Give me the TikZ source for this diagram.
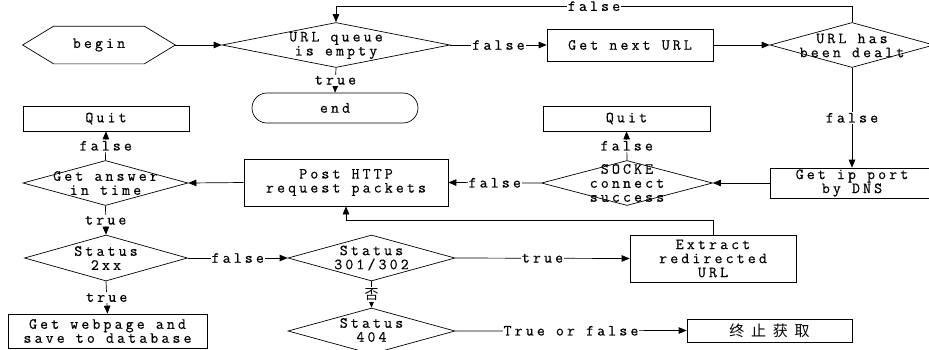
\documentclass[tikz,border=0pt]{standalone}
\usepackage{fontspec}
\usetikzlibrary{shapes.geometric,shapes.misc,arrows.meta}
\newfontfamily\dg[LetterSpace=20,FakeBold=0.4]{Latin Modern Mono}
\newfontfamily\cjk[LetterSpace=45]{Noto Sans CJK SC}
\begin{document}
\begin{tikzpicture}[x=1pt,y=-1pt,line width=0.7pt,
  base/.style={font=\dg\fontsize{15.5}{14}\selectfont, align=center, inner sep=0pt},
  box/.style={base, draw, rectangle},
  dia/.style={draw, diamond, inner sep=0pt},
  lbl/.style={base, fill=white, inner sep=1pt},
  arr/.style={-{Triangle[length=8pt,width=6.5pt]}}]
\useasboundingbox (0,0) rectangle (929,349);
\clip (0,0) rectangle (929,349);
% begin hexagon
\node[base, minimum width=152, minimum height=37] (begin) at (99,45) {begin};
\draw ([xshift=0]begin.west) -- ([xshift=31]begin.north west) -- ([xshift=-31]begin.north east)
  -- (begin.east) -- ([xshift=-31]begin.south east) -- ([xshift=31]begin.south west) -- cycle;
% diamonds
\node[dia, minimum width=228, minimum height=45] (d1) at (336,45) {};
\node[base] (d1t) at (336,45.5) {URL queue\\is empty};
\node[dia, minimum width=164, minimum height=45] (d2) at (852,45) {};
\node[base] (d2t) at (852,45.5) {URL has\\been dealt};
\node[dia, minimum width=171, minimum height=45] (sock) at (627,183) {};
\node[base] (sockt) at (627,183) {SOCKE\\connect\\success};
\node[dia, minimum width=165, minimum height=45] (ans) at (105.5,183) {};
\node[base] (anst) at (105.5,183) {Get answer\\in time};
\node[dia, minimum width=163, minimum height=46] (s2) at (106,258) {};
\node[base] (s2t) at (106,258) {Status\\2xx};
\node[dia, minimum width=167, minimum height=46] (s3) at (371.5,258) {};
\node[base] (s3t) at (371.5,258) {Status\\301/302};
\node[dia, minimum width=167, minimum height=46] (s4) at (371.5,331) {};
\node[base] (s4t) at (371.5,330) {Status\\404};
% boxes
\node[base, draw, rounded rectangle, minimum width=166, minimum height=30] (end) at (335,108) {end};
\node[box, minimum width=166, minimum height=32] (next) at (630,45) {Get next URL};
\node[box, minimum width=164, minimum height=30] (dns) at (852,183) {Get ip port\\by DNS};
\node[box, minimum width=167, minimum height=25] (quit2) at (626.5,118.5) {Quit};
\node[box, minimum width=166, minimum height=25] (quit1) at (106,118.5) {Quit};
\node[box, minimum width=204, minimum height=47] (post) at (346,182.5) {Post HTTP\\request packets};
\node[box, minimum width=199, minimum height=34] (web) at (107.5,331) {Get webpage and\\save to database};
\node[box, minimum width=166, minimum height=47] (extract) at (713,258.5) {Extract\\redirected\\URL};
\node[box, minimum width=165, minimum height=23] (stop) at (769.5,330.5) {\cjk\fontsize{15}{15}\selectfont 终止获取};
% connectors
\draw[arr] (begin.east) -- (d1.west);
\draw[arr] (d1.south) -- node[lbl]{true} (end.north);
\draw[arr] (d1.east) -- node[lbl]{false} (next.west);
\draw[arr] (next.east) -- (d2.west);
\draw[arr] (d2.north) -- ++(0,-16) coordinate (tr) -- node[lbl]{false} (tr -| d1.north) -- (d1.north);
\draw[arr] (d2.south) -- node[lbl]{false} (dns.north);
\draw[arr] (dns.west) -- (sock.east);
\draw[arr] (sock.north) -- node[lbl]{false} (quit2.south);
\draw[arr] (sock.west) -- node[lbl]{false} (post.east);
\draw[arr] (post.west) -- (ans.east);
\draw[arr] (ans.north) -- node[lbl]{false} (quit1.south);
\draw[arr] (ans.south) -- node[lbl]{true} (s2.north);
\draw[arr] (s2.south) -- node[lbl]{true} (web.north);
\draw[arr] (s2.east) -- node[lbl]{false} (s3.west);
\draw[arr] (s3.east) -- node[lbl]{true} (extract.west);
\draw[arr] (extract.north) -- ++(0,-14) -| (post.south);
\draw[arr] (s3.south) -- node[lbl, font=\cjk\fontsize{14}{14}\selectfont]{否} (s4.north);
\draw[arr] (s4.east) -- node[lbl]{True or false} (stop.west);
\end{tikzpicture}
\end{document}
